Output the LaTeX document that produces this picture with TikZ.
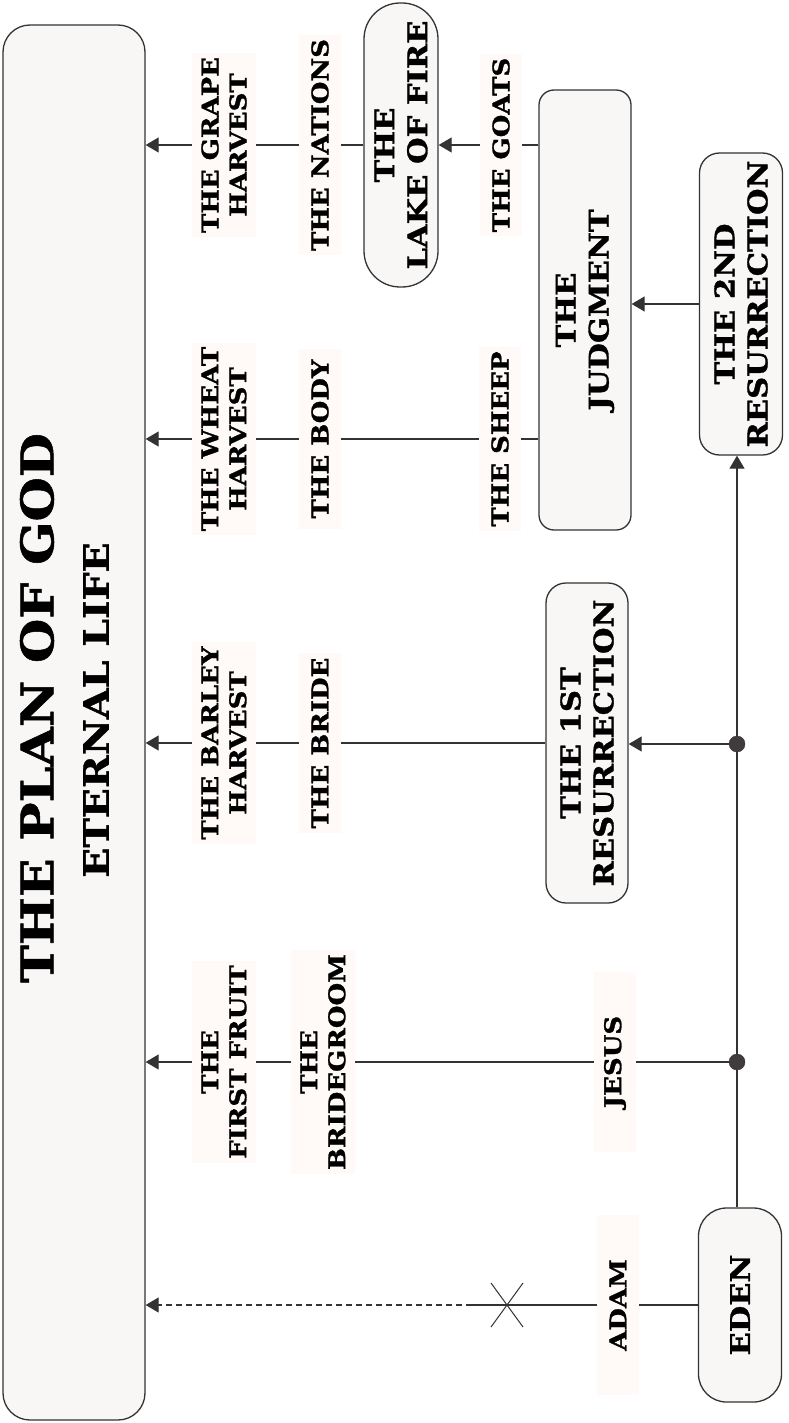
\documentclass[tikz,border=0pt]{standalone}
\usepackage{fontspec}
\setmainfont{DejaVu Serif}[FakeStretch=1.13, BoldFeatures={FakeBold=1.2}]
\usetikzlibrary{arrows.meta}

\definecolor{linecol}{HTML}{333333}
\definecolor{tipcol}{HTML}{403C3C}
\definecolor{boxfill}{HTML}{F9F6F6}
\definecolor{tagfill}{HTML}{FFFAF7}

\newcommand{\fnttitle}{\fontsize{45}{50}\selectfont\bfseries}
\newcommand{\fntsub}{\fontsize{35}{40}\selectfont\bfseries}
\newcommand{\fntbox}{\fontsize{27}{33}\selectfont\bfseries}
\newcommand{\fnttag}{\fontsize{23}{28}\selectfont\bfseries}

\tikzset{
  box/.style={draw=linecol, fill=boxfill, line width=1.3pt, rotate=90,
    align=center, font=\fntbox, inner sep=0pt, text=black},
  tag/.style={fill=tagfill, rotate=90, align=center, font=\fnttag,
    minimum width=180pt, minimum height=42pt, inner xsep=4pt, inner ysep=9pt},
  arr/.style={-{Triangle[length=13pt,width=15pt]}, draw=linecol, line width=1.2pt},
  dot/.style={circle, fill=tipcol, draw=linecol, inner sep=0pt, minimum size=16pt},
}

\begin{document}
\begin{tikzpicture}[x=1pt, y=-1pt]
  \useasboundingbox (0,0) rectangle (789,1423);

  % boxes
  \node[box, rounded corners=27pt, minimum width=1395pt, minimum height=142pt] (plan) at (74,722.5) {};
  \node[rotate=90, font=\fnttitle] (title) at (37,708) {THE PLAN OF GOD};
  \node[rotate=90, font=\fntsub] (life) at (96,710) {ETERNAL LIFE};

  \node[box, rounded corners=36pt, minimum width=284pt, minimum height=74pt] (lake) at (401,145) {THE\\LAKE OF FIRE};
  \node[box, rounded corners=15pt, minimum width=440pt, minimum height=92pt] (judg) at (585,310) {THE\\JUDGMENT};
  \node[box, rounded corners=20pt, minimum width=302pt, minimum height=83pt] (res2) at (741,304) {THE 2ND\\RESURRECTION};
  \node[box, rounded corners=20pt, minimum width=320pt, minimum height=82pt] (res1) at (587,743) {THE 1ST\\RESURRECTION};
  \node[box, rounded corners=28pt, minimum width=194pt, minimum height=83pt] (eden) at (740,1305) {EDEN};

  % labels
  \node[tag] (grape) at (224,145) {THE GRAPE\\HARVEST};
  \node[tag] (wheat) at (224,439) {THE WHEAT\\HARVEST};
  \node[tag] (barley) at (224,743) {THE BARLEY\\HARVEST};
  \node[tag] (fruit) at (224,1062) {THE\\FIRST FRUIT};

  \node[tag] (nations) at (320,145) {THE NATIONS};
  \node[tag] (body) at (320,439) {THE BODY};
  \node[tag] (bride) at (320,743) {THE BRIDE};
  \node[tag] (groom) at (323,1062) {THE\\BRIDEGROOM};

  \node[tag] (goats) at (501,145) {THE GOATS};
  \node[tag] (sheep) at (500,439) {THE SHEEP};
  \node[tag] (jesus) at (615,1062) {JESUS};
  \node[tag] (adam) at (618,1305) {ADAM};

  % timeline
  \node[dot] (d1) at (737,744) {};
  \node[dot] (d2) at (737,1062) {};
  \draw[arr] (eden.east -| d2) -- (d2) -- (d1) -- (res2.west -| d1);
  \draw[arr] (d1) -- (d1 -| res1.south);
  \draw[arr] (res2) -- (res2 -| judg.south);

  % rows
  \draw[arr] (judg.north |- lake) -- (goats) -- (lake);
  \draw[arr] (lake) -- (nations) -- (grape) -- (grape -| plan.south);
  \draw[arr] (judg.north |- sheep) -- (sheep) -- (body) -- (wheat) -- (wheat -| plan.south);
  \draw[arr] (res1) -- (bride) -- (barley) -- (barley -| plan.south);
  \draw[arr] (d2) -- (jesus) -- (groom) -- (fruit) -- (fruit -| plan.south);

  \coordinate (cross) at (507,1305);
  \coordinate (brk) at (472,1305);
  \draw[draw=linecol, line width=1.2pt] (eden) -- (adam) -- (brk);
  \draw[arr, dash pattern=on 6pt off 4pt] (brk) -- (brk -| plan.south);
  \draw[linecol, line width=1pt] (cross) +(-16,-22) -- +(16,22);
  \draw[linecol, line width=1pt] (cross) +(16,-22) -- +(-16,22);
\end{tikzpicture}
\end{document}
